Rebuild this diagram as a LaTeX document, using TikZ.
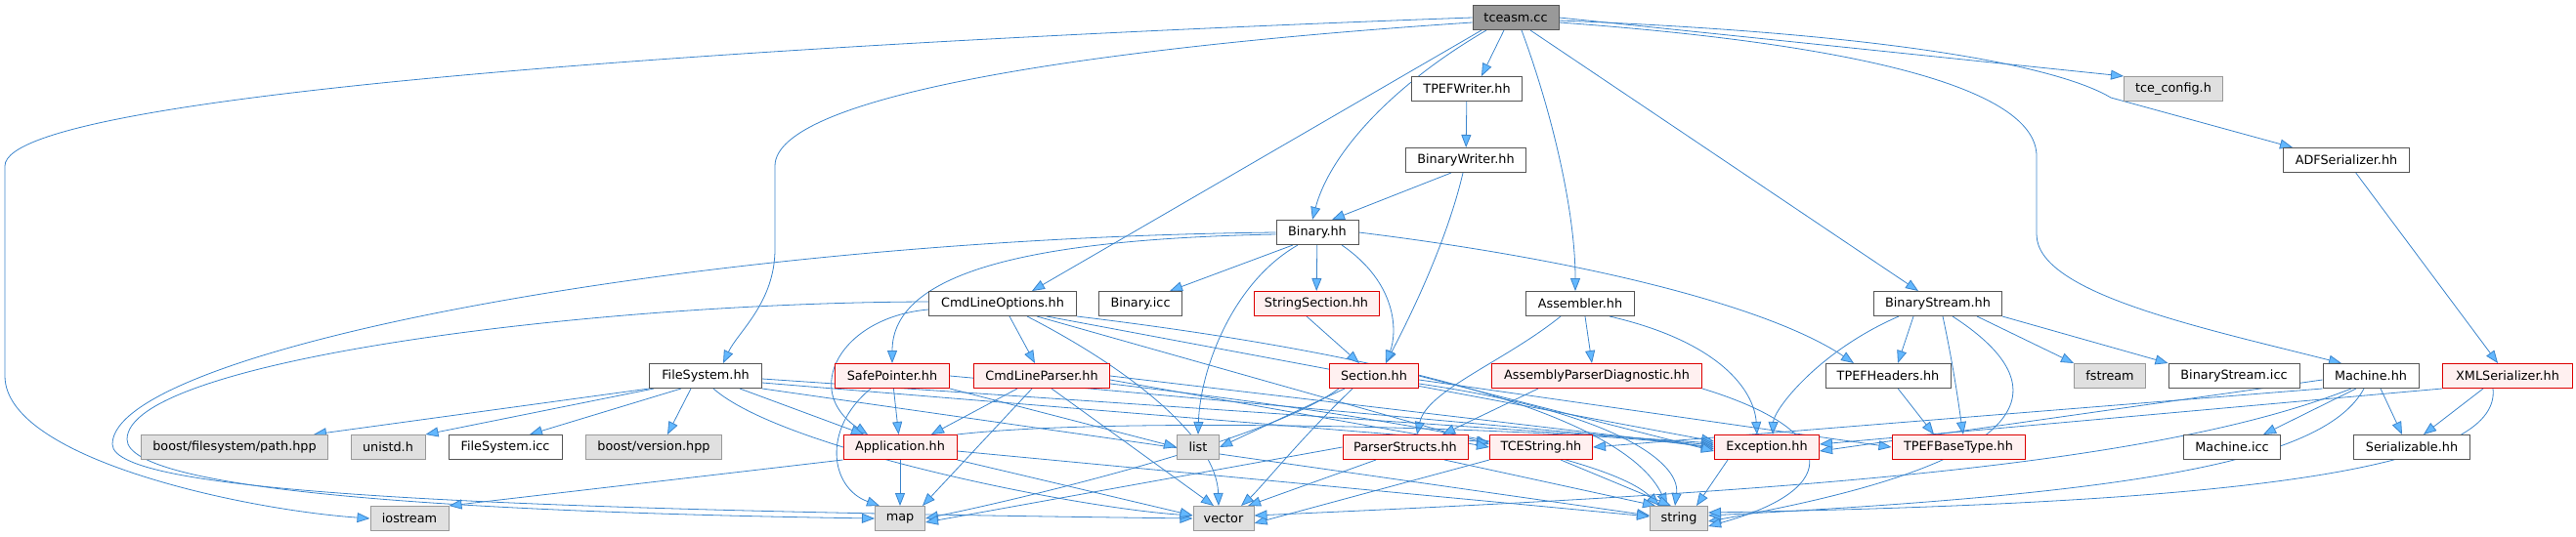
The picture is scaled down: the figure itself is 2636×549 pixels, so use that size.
\documentclass[tikz,border=0pt]{standalone}
\usepackage{fontspec}
\setmainfont{DejaVu Sans}
\usetikzlibrary{arrows.meta}
\definecolor{edgec}{HTML}{3C85CC}
\definecolor{arrf}{HTML}{63B8FF}
\definecolor{nbord}{HTML}{555555}
\definecolor{sbord}{HTML}{999999}
\definecolor{sfill}{HTML}{E0E0E0}
\definecolor{rbord}{HTML}{DD0000}
\definecolor{rfill}{HTML}{FFF0F0}
\definecolor{rootfill}{HTML}{999999}
\pgfdeclarelayer{bg}
\pgfsetlayers{bg,main}
\begin{document}
\begin{tikzpicture}[x=1pt,y=-1pt,
  nbox/.style={draw=nbord, fill=white, minimum height=25pt, inner sep=0pt, line width=1pt,
    font=\fontsize{12.8}{14}\selectfont},
  redbox/.style={nbox, draw=rbord, fill=rfill},
  sysbox/.style={nbox, draw=sbord, fill=sfill},
  rootbox/.style={nbox, draw=nbord, fill=rootfill},
  e/.style={draw=edgec, line width=0.8pt, -{Triangle[length=13pt,width=10pt,fill=arrf]}}
]
\useasboundingbox (0,0) rectangle (2636,549);

% nodes
\node[rootbox, minimum width=88pt] (tceasm) at (1551,18) {tceasm.cc};
\node[nbox, minimum width=113pt] (tpefw) at (1501,91) {TPEFWriter.hh};
\node[sysbox, minimum width=101pt] (tcecfg) at (2224,91) {tce\_config.h};
\node[nbox, minimum width=123pt] (binw) at (1500,164) {BinaryWriter.hh};
\node[nbox, minimum width=129pt] (adf) at (2401,164) {ADFSerializer.hh};
\node[nbox, minimum width=84pt] (binary) at (1348,238) {Binary.hh};
\node[nbox, minimum width=151pt] (clo) at (1026,311) {CmdLineOptions.hh};
\node[nbox, minimum width=85pt] (binicc) at (1167,311) {Binary.icc};
\node[redbox, minimum width=128pt] (strsec) at (1347,311) {StringSection.hh};
\node[nbox, minimum width=111pt] (asm) at (1617,311) {Assembler.hh};
\node[nbox, minimum width=131pt] (bstream) at (1983,311) {BinaryStream.hh};
\node[nbox, minimum width=115pt] (fs) at (722,385) {FileSystem.hh};
\node[redbox, minimum width=117pt] (safep) at (913,385) {SafePointer.hh};
\node[redbox, minimum width=139pt] (clp) at (1066,385) {CmdLineParser.hh};
\node[redbox, minimum width=91pt] (section) at (1406,385) {Section.hh};
\node[redbox, minimum width=215pt] (apd) at (1634,385) {AssemblyParserDiagnostic.hh};
\node[nbox, minimum width=128pt] (tpefh) at (1932,385) {TPEFHeaders.hh};
\node[sysbox, minimum width=73pt] (fstream) at (2159,385) {fstream};
\node[nbox, minimum width=134pt] (bsicc) at (2286,385) {BinaryStream.icc};
\node[nbox, minimum width=98pt] (machine) at (2426,385) {Machine.hh};
\node[redbox, minimum width=133pt] (xmls) at (2566,385) {XMLSerializer.hh};
\node[sysbox, minimum width=191pt] (bfpath) at (240,458) {boost/filesystem/path.hpp};
\node[sysbox, minimum width=76pt] (unistd) at (397,458) {unistd.h};
\node[nbox, minimum width=116pt] (fsicc) at (517,458) {FileSystem.icc};
\node[sysbox, minimum width=139pt] (bver) at (669,458) {boost/version.hpp};
\node[redbox, minimum width=116pt] (app) at (921,458) {Application.hh};
\node[sysbox, minimum width=43pt] (list) at (1226,458) {list};
\node[redbox, minimum width=128pt] (pstruct) at (1438,458) {ParserStructs.hh};
\node[redbox, minimum width=105pt] (tcestr) at (1577,458) {TCEString.hh};
\node[redbox, minimum width=107pt] (exc) at (1808,458) {Exception.hh};
\node[redbox, minimum width=136pt] (tpefbt) at (2004,458) {TPEFBaseType.hh};
\node[nbox, minimum width=99pt] (micc) at (2284,458) {Machine.icc};
\node[nbox, minimum width=119pt] (serial) at (2468,458) {Serializable.hh};
\node[sysbox, minimum width=80pt] (iostream) at (419,531) {iostream};
\node[sysbox, minimum width=51pt] (map) at (921,531) {map};
\node[sysbox, minimum width=62pt] (vector) at (1252,531) {vector};
\node[sysbox, minimum width=59pt] (string) at (1718,531) {string};

\begin{pgfonlayer}{bg}
% tceasm.cc
\draw[e] (tceasm.west) .. controls (900,40) and (5,90) .. (5,170) -- (5,385) .. controls (5,470) and (250,522) .. (iostream.west);
\draw[e] ([yshift=-5pt]tceasm.west) .. controls (1100,50) and (793,100) .. (793,170) -- (793,255) .. controls (793,310) and (755,340) .. ([xshift=18pt]fs.north);
\draw[e] ([xshift=-35pt]tceasm.south) -- ([xshift=30pt]clo.north);
\draw[e] ([xshift=-30pt]tceasm.south) .. controls (1420,90) and (1360,160) .. ([xshift=-5pt]binary.north);
\draw[e] ([xshift=-12pt]tceasm.south) -- ([xshift=15pt]tpefw.north);
\draw[e] ([xshift=6pt]tceasm.south) .. controls (1590,120) and (1612,220) .. ([xshift=-5pt]asm.north);
\draw[e] ([xshift=15pt]tceasm.south) -- ([xshift=-20pt]bstream.north);
\draw[e] ([yshift=-5pt]tceasm.east) .. controls (1900,45) and (2084,90) .. (2084,160) -- (2084,240) .. controls (2084,300) and (2250,335) .. ([xshift=-30pt]machine.north);
\draw[e] ([yshift=-3pt]tceasm.east) .. controls (1950,35) and (2110,70) .. (2160,100) -- ([xshift=-55pt]adf.north);
\draw[e] (tceasm.east) -- (tcecfg.north west);
% writer chain
\draw[e] (tpefw) -- (binw);
\draw[e] ([xshift=-15pt]binw.south) -- ([xshift=15pt]binary.north);
\draw[e] ([xshift=-3pt]binw.south) .. controls (1480,250) and (1440,330) .. ([xshift=12pt]section.north);
% Binary.hh
\draw[e] (binary.west) .. controls (700,245) and (115,360) .. (115,455) .. controls (115,505) and (500,522) .. (vector.west);
\draw[e] ([yshift=-2pt]binary.west) .. controls (1050,245) and (913,280) .. (safep.north);
\draw[e] ([xshift=-25pt]binary.south) -- ([xshift=30pt]binicc.north);
\draw[e] ([xshift=-20pt]binary.south) .. controls (1260,290) and (1228,380) .. (list.north);
\draw[e] (binary) -- (strsec);
\draw[e] ([xshift=25pt]binary.south) .. controls (1430,290) and (1430,340) .. ([xshift=12pt]section.north);
\draw[e] (binary.east) .. controls (1650,270) and (1820,320) .. ([xshift=-35pt]tpefh.north);
% CmdLineOptions.hh
\draw[e] ([yshift=2pt]clo.west) .. controls (600,310) and (130,370) .. (130,450) .. controls (130,505) and (500,525) .. (map.west);
\draw[e] ([yshift=-6pt]clo.west) .. controls (860,325) and (820,400) .. ([xshift=-33pt]app.north);
\draw[e] (clo) -- (clp);
\draw[e] ([xshift=25pt]clo.south) .. controls (1160,380) and (1245,450) .. ([xshift=-5pt]vector.north);
\draw[e] ([xshift=35pt]clo.south) -- ([yshift=3pt]tcestr.west);
\draw[e] ([xshift=45pt]clo.south) -- ([yshift=6pt]exc.west);
\draw[e] (clo.south east) .. controls (1400,360) and (1660,420) .. ([xshift=-12pt]string.north);
% StringSection
\draw[e] ([xshift=-10pt]strsec.south) -- ([xshift=-15pt]section.north);
% Assembler
\draw[e] ([xshift=-20pt]asm.south) .. controls (1540,370) and (1460,400) .. ([xshift=12pt]pstruct.north);
\draw[e] ([xshift=5pt]asm.south) -- ([xshift=-5pt]apd.north);
\draw[e] ([xshift=30pt]asm.south) .. controls (1760,350) and (1795,400) .. ([xshift=-10pt]exc.north);
% BinaryStream
\draw[e] ([xshift=-40pt]bstream.south) .. controls (1860,360) and (1815,420) .. ([xshift=6pt]exc.north);
\draw[e] ([xshift=-25pt]bstream.south) -- ([xshift=10pt]tpefh.north);
\draw[e] ([xshift=5pt]bstream.south) .. controls (2000,380) and (2005,420) .. ([xshift=5pt]tpefbt.north);
\draw[e] ([xshift=15pt]bstream.south) .. controls (2100,390) and (2110,470) .. ([yshift=-3pt]string.east);
\draw[e] ([xshift=40pt]bstream.south) -- (fstream.north west);
\draw[e] (bstream.south east) -- (bsicc.north west);
% ADFSerializer
\draw[e] (adf) -- ([xshift=-10pt]xmls.north);
% FileSystem
\draw[e] (fs.south west) -- ([xshift=-15pt]bfpath.north east);
\draw[e] ([xshift=5pt]fs.south west) -- (unistd.north east);
\draw[e] ([xshift=-25pt]fs.south) -- ([xshift=25pt]fsicc.north);
\draw[e] ([xshift=-15pt]fs.south) -- ([xshift=14pt]bver.north);
\draw[e] ([xshift=35pt]fs.south) -- ([xshift=-37pt]app.north);
\draw[e] ([xshift=8pt]fs.south) .. controls (800,460) and (1100,520) .. ([yshift=3pt]vector.west);
\draw[e] ([yshift=-3pt]fs.east) -- ([yshift=4pt]exc.west);
\draw[e] ([yshift=-7pt]fs.east) -- ([yshift=5pt]tcestr.west);
\draw[e] (fs.south east) -- ([yshift=3pt]string.west);
% SafePointer
\draw[e] (safep) -- (app);
\draw[e] ([xshift=-22pt]safep.south) .. controls (840,440) and (850,500) .. ([xshift=5pt]map.north west);
\draw[e] (safep.south east) -- (list.west);
\draw[e] (safep.east) -- ([yshift=2pt]exc.west);
% CmdLineParser
\draw[e] ([xshift=-25pt]clp.south) -- ([xshift=32pt]app.north);
\draw[e] ([xshift=-10pt]clp.south) -- ([xshift=-3pt]map.north east);
\draw[e] ([xshift=10pt]clp.south) -- ([xshift=-10pt]vector.north);
\draw[e] (clp.east) -- (exc.west);
\draw[e] ([yshift=-4pt]clp.east) -- (tcestr.west);
\draw[e] ([yshift=-8pt]clp.east) .. controls (1450,430) and (1650,470) .. ([xshift=-20pt]string.north);
% Application
\draw[e] (app.south west) -- (iostream.north east);
\draw[e] (app) -- (map);
\draw[e] (app.south east) -- ([yshift=3pt]vector.west);
\draw[e] ([yshift=-4pt]app.east) -- ([yshift=2pt]string.west);
\draw[e] (app.north east) .. controls (1150,425) and (1650,440) .. ([yshift=-2pt]exc.west);
% Section
\draw[e] ([xshift=-30pt]section.south) -- (list.east);
\draw[e] ([xshift=-36pt]section.south) .. controls (1300,450) and (1050,510) .. (map.east);
\draw[e] ([xshift=-22pt]section.south) .. controls (1330,450) and (1290,500) .. ([xshift=18pt]vector.north);
\draw[e] (section.east) -- ([yshift=-4pt]exc.west);
\draw[e] ([yshift=-4pt]section.east) -- (tpefbt.west);
\draw[e] ([yshift=-8pt]section.east) .. controls (1640,420) and (1720,470) .. ([xshift=-4pt]string.north);
% ParserStructs
\draw[e] (pstruct.west) -- ([yshift=-4pt]map.east);
\draw[e] ([xshift=-30pt]pstruct.south) -- ([xshift=25pt]vector.north);
\draw[e] ([xshift=40pt]pstruct.south) -- ([xshift=-24pt]string.north);
% AssemblyParserDiagnostic
\draw[e] ([xshift=-60pt]apd.south) -- ([xshift=38pt]pstruct.north);
\draw[e] (apd.south east) .. controls (1880,440) and (1890,500) .. ([yshift=-8pt]string.east);
% TCEString, Exception, TPEFHeaders
\draw[e] (tcestr.south west) -- ([yshift=-5pt]vector.east);
\draw[e] ([xshift=20pt]tcestr.south) -- ([xshift=-8pt]string.north);
\draw[e] ([xshift=-40pt]exc.south) -- ([xshift=18pt]string.north);
\draw[e] (tpefh) -- ([xshift=-25pt]tpefbt.north);
% Machine
\draw[e] ([yshift=-4pt]machine.west) -- ([yshift=-4pt]exc.east);
\draw[e] (machine.south west) -- (tcestr.east);
\draw[e] ([xshift=-20pt]machine.south) .. controls (2200,480) and (1800,505) .. ([yshift=3pt]vector.east);
\draw[e] ([xshift=-15pt]machine.south) -- ([xshift=-18pt]micc.north east);
\draw[e] ([xshift=-7pt]machine.south) .. controls (2380,470) and (2200,505) .. ([yshift=3pt]string.east);
\draw[e] ([xshift=10pt]machine.south) -- ([xshift=-10pt]serial.north);
% XMLSerializer
\draw[e] (xmls.south west) -- ([yshift=3pt]exc.east);
\draw[e] ([xshift=-25pt]xmls.south) -- ([xshift=12pt]serial.north);
\draw[e] ([xshift=-15pt]xmls.south) .. controls (2560,480) and (2300,515) .. ([yshift=6pt]string.east);
\end{pgfonlayer}
\end{tikzpicture}
\end{document}
